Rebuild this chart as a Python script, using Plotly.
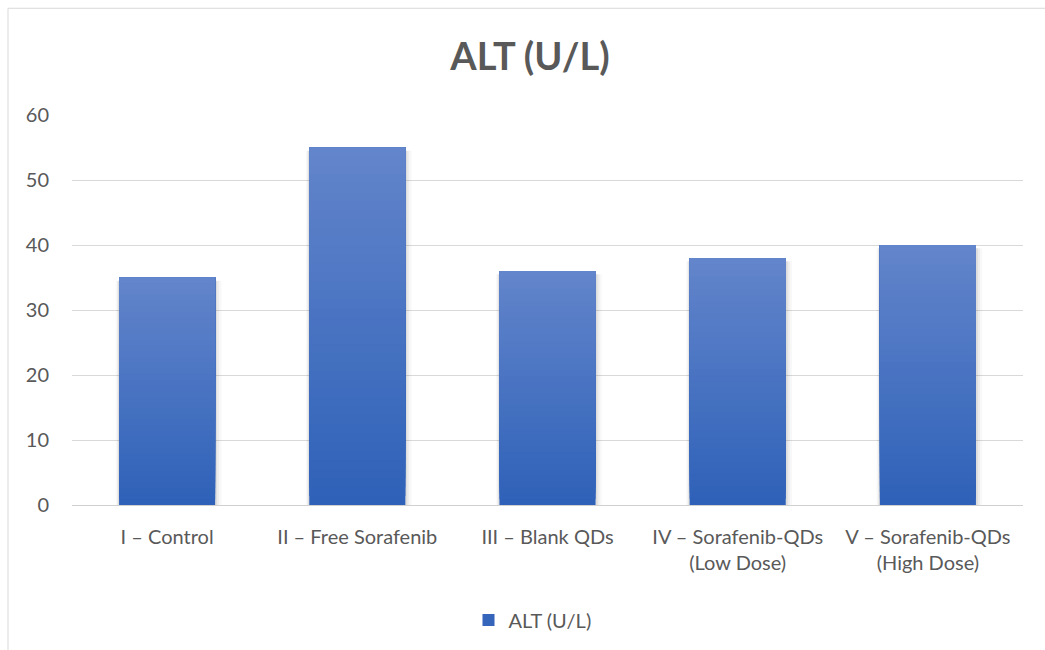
import plotly.graph_objects as go

# ALT levels per treatment group
groups = [
    "I – Control",
    "II – Free Sorafenib",
    "III – Blank QDs",
    "IV – Sorafenib-QDs<br>(Low Dose)",
    "V – Sorafenib-QDs<br>(High Dose)",
]
alt_values = [35, 55, 36, 38, 40]
series_name = "ALT (U/L)"
y_ticks = [0, 10, 20, 30, 40, 50, 60]

# vertical gradient: dark blue at the base, lighter towards the top
bottom_rgb = (46, 97, 184)
top_rgb = (99, 133, 203)
n_steps = 40
bar_width = 0.505

W, H = 1045, 650
ml, mr, mt, mb = 72, 22, 115, 144
plot_h = H - mt - mb
plot_w = W - ml - mr

fig = go.Figure()

# soft drop shadow behind each bar
for width, alpha in [(bar_width + 0.05, 0.04), (bar_width + 0.032, 0.06), (bar_width + 0.016, 0.09)]:
    fig.add_trace(go.Bar(
        x=groups,
        y=[v - 0.5 for v in alt_values],
        base=0,
        width=width,
        offset=-bar_width / 2 - (width - bar_width) * 0.35,
        marker=dict(color=f"rgba(70,70,70,{alpha})", line=dict(width=0)),
        showlegend=False,
        hoverinfo="skip",
    ))

# each bar is painted as overlapping layers, every layer running from its
# own start height up to the bar's value, so the fill fades upward
for i in range(n_steps):
    t = (i + 0.5) / n_steps
    r, g, b = (round(bottom_rgb[k] + (top_rgb[k] - bottom_rgb[k]) * t) for k in range(3))
    fig.add_trace(go.Bar(
        x=groups,
        y=[v * (n_steps - i) / n_steps for v in alt_values],
        base=[v * i / n_steps for v in alt_values],
        width=bar_width,
        name=series_name,
        legendgroup="alt",
        showlegend=(i == 4),
        marker=dict(color=f"rgb({r},{g},{b})", line=dict(width=0)),
        hoverinfo="skip" if i else "x+text",
        text=[str(v) for v in alt_values] if i == 0 else None,
        textposition="none",
    ))

fig.update_layout(
    width=W,
    height=H,
    margin=dict(l=ml, r=mr, t=mt, b=mb),
    barmode="overlay",
    paper_bgcolor="white",
    plot_bgcolor="white",
    font=dict(family="Lato, 'Open Sans', sans-serif", color="#595959", size=20),
    title=dict(
        text="<b>ALT (U/L)</b>",
        x=530 / W,
        xanchor="center",
        y=1 - 57 / H,
        yanchor="middle",
        font=dict(size=38, color="#595959"),
    ),
    xaxis=dict(
        showgrid=False,
        showline=True,
        linecolor="#D0D0D0",
        linewidth=1,
        ticks="",
        ticklabelstandoff=14,
        tickfont=dict(size=20, color="#595959"),
    ),
    yaxis=dict(
        range=[0, 60],
        tickvals=y_ticks,
        showgrid=True,
        gridcolor="#D9D9D9",
        gridwidth=1,
        zeroline=False,
        showline=False,
        ticks="",
        ticklabelstandoff=22,
        tickfont=dict(size=20, color="#595959"),
    ),
    legend=dict(
        orientation="h",
        x=0.5 - 15 / plot_w,
        xanchor="center",
        y=-(620 - (H - mb)) / plot_h,
        yanchor="middle",
        font=dict(size=20, color="#595959"),
        traceorder="normal",
    ),
    shapes=[
        # chart frame
        dict(
            type="rect",
            xref="paper",
            yref="paper",
            x0=(8 - ml) / plot_w,
            x1=(W + 20 - ml) / plot_w,
            y0=-(H + 20 - (H - mb)) / plot_h,
            y1=1 + (mt - 8) / plot_h,
            line=dict(color="#D9D9D9", width=1),
            fillcolor="rgba(0,0,0,0)",
            layer="below",
        )
    ],
)

fig.write_html("out.html")
